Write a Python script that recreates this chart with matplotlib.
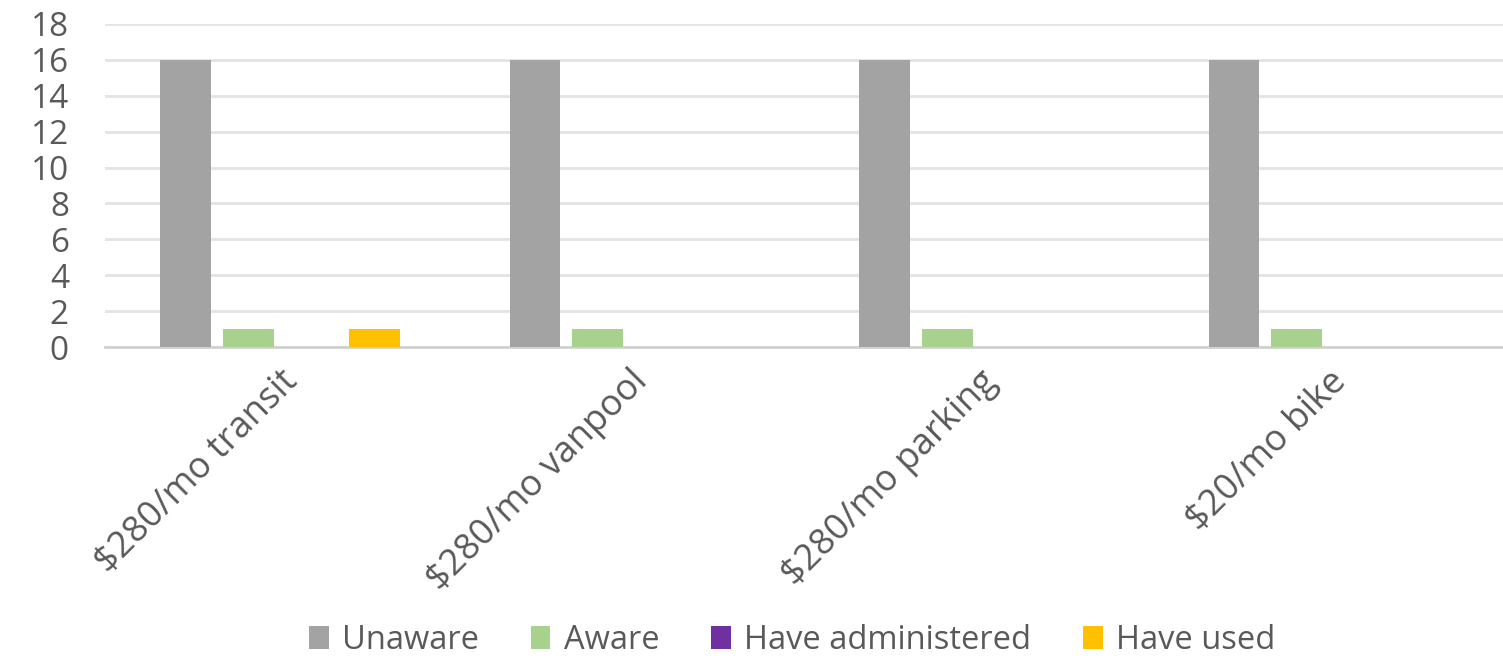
import matplotlib
matplotlib.use('Agg')
import matplotlib.pyplot as plt
import numpy as np

plt.rcParams['font.family'] = ['Open Sans', 'DejaVu Sans']

categories = ['\\$280/mo transit', '\\$280/mo vanpool', '\\$280/mo parking', '\\$20/mo bike']
series_names = ['Unaware', 'Aware', 'Have administered', 'Have used']
unaware = [16, 16, 16, 16]
aware = [1, 1, 1, 1]
administered = [0, 0, 0, 0]
used = [1, 0, 0, 0]
colors = ['#a3a3a3', '#a9d18e', '#7030a0', '#ffc000']

fig = plt.figure(figsize=(15.03, 6.64), dpi=100)
ax = fig.add_axes([0.0699, 0.4774, 0.9301, 0.4865])

x = np.arange(len(categories))
step = 0.18
width = 0.145
data = [unaware, aware, administered, used]
for i, (vals, name, c) in enumerate(zip(data, series_names, colors)):
    ax.bar(x + (i - 1.5) * step, vals, width, color=c, label=name, zorder=3)

ax.set_xlim(-0.5, len(categories) - 0.5)
ax.set_ylim(0, 18)
ax.set_yticks(range(0, 19, 2))
ax.grid(axis='y', color='#e3e3e3', linewidth=2, zorder=0)
for s in ['top', 'right', 'left']:
    ax.spines[s].set_visible(False)
ax.spines['bottom'].set_color('#d0d0d0')
ax.spines['bottom'].set_linewidth(2)
ax.tick_params(axis='both', length=0, colors='#595959', labelsize=24)
ax.tick_params(axis='y', pad=26)
ax.set_xticks(x)
ax.set_xticklabels(categories, rotation=45, ha='right', rotation_mode='anchor', fontsize=26)
ax.tick_params(axis='x', pad=12)

leg = fig.legend(loc='center', bbox_to_anchor=(0.527, 0.036), ncol=4, frameon=False,
                 fontsize=23.5, handlelength=0.6, handleheight=0.7, handletextpad=0.4,
                 columnspacing=1.6, labelcolor='#595959')

fig.savefig('out.png', dpi=100)
